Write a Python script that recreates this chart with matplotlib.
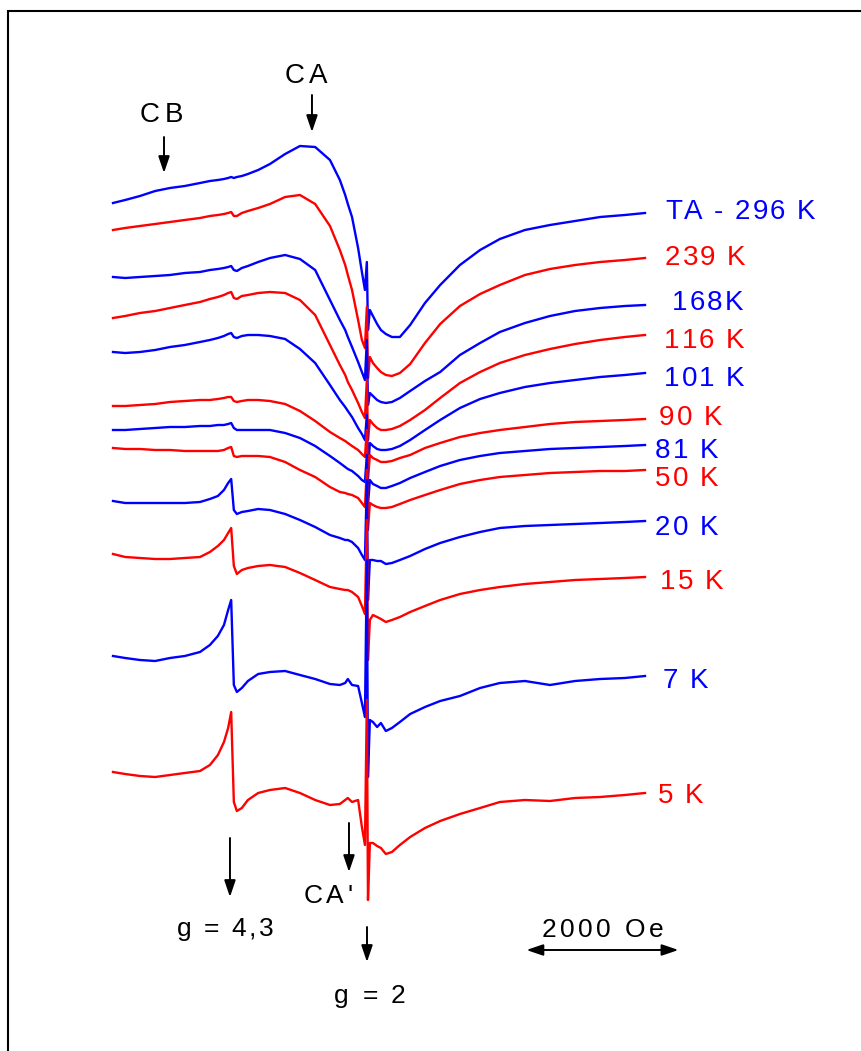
# Stacked EPR spectra at different temperatures
import matplotlib
matplotlib.use('Agg')
import matplotlib.pyplot as plt
from matplotlib import font_manager
from matplotlib.patches import Rectangle

DPI = 100
FONT = 'Liberation Sans'

# magnetic field (Oe), same grid for every spectrum
field = [0, 160, 355, 555, 750, 945, 1145, 1275, 1380, 1460,
         1515, 1555, 1590, 1630, 1695, 1775, 1910, 2065, 2265, 2460,
         2660, 2855, 2985, 3055, 3090, 3145, 3225, 3275, 3315, 3340,
         3355, 3380, 3420, 3475, 3525, 3590, 3670, 3775, 3910, 4105,
         4305, 4565, 4830, 5090, 5420, 5750, 6080, 6410, 6735, 7000]

# stacked signal (a.u., offset included, counted downwards)
t296 = [203, 200, 196, 191, 188, 186, 183, 181, 180, 179,
        178, 177, 178, 177, 176, 174, 170, 164, 154, 146,
        147, 160, 180, 195, 204, 217, 248, 272, 290, 262,
        330, 310, 316, 324, 330, 334, 337, 337, 325, 303,
        285, 265, 250, 239, 230, 225, 221, 217, 215, 213]
t239 = [230, 228, 226, 224, 222, 220, 218, 216, 215, 214,
        213, 212, 216, 216, 213, 211, 208, 204, 197, 195,
        204, 226, 250, 265, 275, 290, 320, 340, 348, 307,
        378, 357, 363, 368, 372, 375, 376, 373, 364, 343,
        324, 306, 294, 285, 275, 269, 265, 262, 260, 258]
t168 = [277, 278, 277, 276, 275, 273, 272, 270, 269, 268,
        267, 266, 270, 271, 268, 266, 262, 258, 255, 259,
        270, 300, 320, 330, 337, 347, 362, 372, 380, 340,
        405, 393, 396, 400, 402, 403, 402, 398, 391, 381,
        372, 355, 343, 332, 323, 316, 311, 308, 306, 305]
t116 = [318, 316, 313, 311, 308, 305, 302, 299, 297, 295,
        293, 292, 298, 299, 296, 295, 293, 292, 293, 300,
        315, 345, 365, 375, 382, 390, 403, 412, 418, 380,
        440, 420, 424, 428, 430, 430, 429, 426, 420, 410,
        398, 383, 372, 363, 355, 349, 344, 340, 337, 335]
t101 = [352, 353, 352, 350, 347, 345, 342, 340, 338, 336,
        334, 333, 337, 338, 336, 335, 335, 336, 339, 349,
        363, 385, 400, 407, 411, 417, 428, 434, 440, 415,
        470, 443, 446, 449, 450, 450, 449, 446, 440, 430,
        420, 408, 399, 393, 387, 383, 380, 377, 375, 373]
t90 = [406, 406, 405, 404, 402, 401, 400, 400, 399, 398,
       397, 397, 401, 402, 401, 400, 400, 401, 404, 411,
       421, 432, 438, 441, 443, 446, 450, 454, 457, 430,
       480, 455, 458, 460, 462, 462, 461, 458, 455, 448,
       443, 437, 433, 430, 427, 424, 422, 421, 420, 419]
t81 = [430, 430, 429, 428, 427, 427, 426, 426, 425, 425,
       424, 423, 428, 430, 430, 430, 430, 430, 433, 438,
       446, 456, 463, 467, 469, 471, 476, 480, 482, 455,
       505, 480, 484, 486, 488, 488, 486, 483, 478, 472,
       466, 460, 456, 453, 451, 449, 448, 447, 446, 445]
t50 = [448, 449, 449, 450, 450, 451, 451, 451, 451, 450,
       448, 447, 456, 457, 456, 456, 456, 457, 462, 470,
       477, 487, 492, 493, 494, 495, 498, 503, 507, 470,
       530, 503, 505, 507, 508, 508, 507, 504, 500, 495,
       490, 484, 480, 477, 475, 473, 472, 471, 471, 470]
t20 = [501, 503, 503, 503, 503, 503, 502, 499, 496, 490,
       483, 479, 510, 514, 512, 511, 509, 510, 514, 520,
       527, 535, 538, 540, 540, 542, 548, 555, 560, 480,
       600, 560, 560, 561, 561, 564, 563, 560, 556, 549,
       543, 537, 532, 528, 526, 525, 524, 523, 522, 521]
t15 = [554, 557, 558, 559, 559, 558, 557, 552, 546, 540,
       533, 528, 566, 574, 570, 568, 566, 565, 567, 573,
       580, 587, 589, 590, 590, 592, 597, 606, 614, 520,
       660, 620, 615, 617, 619, 622, 620, 617, 612, 606,
       600, 594, 590, 587, 584, 582, 580, 579, 578, 577]
t7 = [656, 658, 660, 661, 658, 656, 652, 645, 636, 625,
      610, 600, 685, 692, 688, 681, 674, 672, 671, 675,
      679, 684, 685, 683, 679, 685, 686, 703, 717, 560,
      777, 720, 722, 727, 723, 731, 728, 722, 714, 707,
      701, 696, 688, 683, 681, 685, 681, 679, 678, 676]
t5 = [772, 774, 776, 777, 775, 773, 771, 765, 755, 742,
      728, 712, 802, 811, 808, 800, 793, 790, 788, 793,
      800, 805, 804, 800, 798, 802, 800, 827, 845, 700,
      900, 843, 843, 846, 848, 854, 852, 845, 837, 828,
      821, 814, 808, 802, 800, 801, 798, 797, 795, 793]

spectra = [t296, t239, t168, t116, t101, t90, t81, t50, t20, t15, t7, t5]
labels = ['TA - 296 K', '239 K', '168K', '116 K', '101 K', '90 K',
          '81 K', '50 K', '20 K', '15 K', '7 K', '5 K']

# where the temperature labels sit (field Oe, baseline a.u.)
label_x = [7263, 7263, 7355, 7250, 7250, 7184, 7132, 7132, 7132, 7197, 7237, 7171]
label_y = [219, 265, 310, 348, 386, 425, 458, 486, 535, 589, 688, 803]

scale_bar = 2000  # Oe

fig = plt.figure(figsize=(8.61, 10.51), dpi=DPI)
ax = fig.add_axes([0, 0, 1, 1])
oe_per_px = 7000 / 532
ax.set_xlim(-113 * oe_per_px, 748 * oe_per_px)
ax.set_ylim(1051, 0)
ax.axis('off')


def tracked_text(x, y, s, size, color, track, ha='left'):
    # matplotlib has no letter spacing, so put the glyphs down one by one
    path = font_manager.findfont(font_manager.FontProperties(family=FONT))
    ft = font_manager.get_font(path)
    ft.set_size(size, DPI)
    adv = [ft.load_char(ord(c)).linearHoriAdvance / 65536 + track for c in s]
    total = sum(adv) - track
    off = -total / 2 if ha == 'center' else 0
    for c, a in zip(s, adv):
        if c != ' ':
            ax.annotate(c, (x, y), xytext=(off * 72 / DPI, 0), textcoords='offset points',
                        fontsize=size, color=color, family=FONT, ha='left', va='baseline')
        off += a


def arrow(x0, y0, x1, y1, style='-|>'):
    ax.annotate('', xy=(x1, y1), xytext=(x0, y0),
                arrowprops=dict(arrowstyle=style + ',head_length=0.5,head_width=0.17',
                                color='black', lw=1.4, mutation_scale=20,
                                shrinkA=0, shrinkB=0))


for i, (sp, lab) in enumerate(zip(spectra, labels)):
    col = 'blue' if i % 2 == 0 else 'red'
    ax.plot(field, sp, color=col, lw=1.7, solid_joinstyle='round')
    tracked_text(label_x[i], label_y[i], lab, 20, col, 2)

# marker arrows
arrow(671, 137, 671, 173)
tracked_text(632, 122, 'CB', 20, 'black', 5, ha='center')
arrow(2618, 95, 2618, 132)
tracked_text(2539, 83, 'CA', 20, 'black', 5, ha='center')
arrow(1539, 838, 1539, 897)
tracked_text(1474, 936, 'g = 4,3', 19, 'black', 2.5, ha='center')
arrow(3105, 823, 3105, 872)
tracked_text(2829, 903, "CA'", 19, 'black', 4, ha='center')
arrow(3342, 927, 3342, 962)
tracked_text(3382, 1003, 'g = 2', 19, 'black', 3, ha='center')

# scale bar
sb0 = 5440
arrow(sb0, 950, sb0 + scale_bar, 950, style='<|-|>')
tracked_text(sb0 + scale_bar / 2, 937, '%d Oe' % scale_bar, 19, 'black', 3.5, ha='center')

# frame, right and bottom edges fall outside the picture
fig.add_artist(Rectangle((8 / 861, -0.1), 1.2, 1.1 - 11 / 1051, transform=fig.transFigure,
                         fill=False, edgecolor='black', lw=1.5, clip_on=False))

fig.savefig('out.png', dpi=DPI)
